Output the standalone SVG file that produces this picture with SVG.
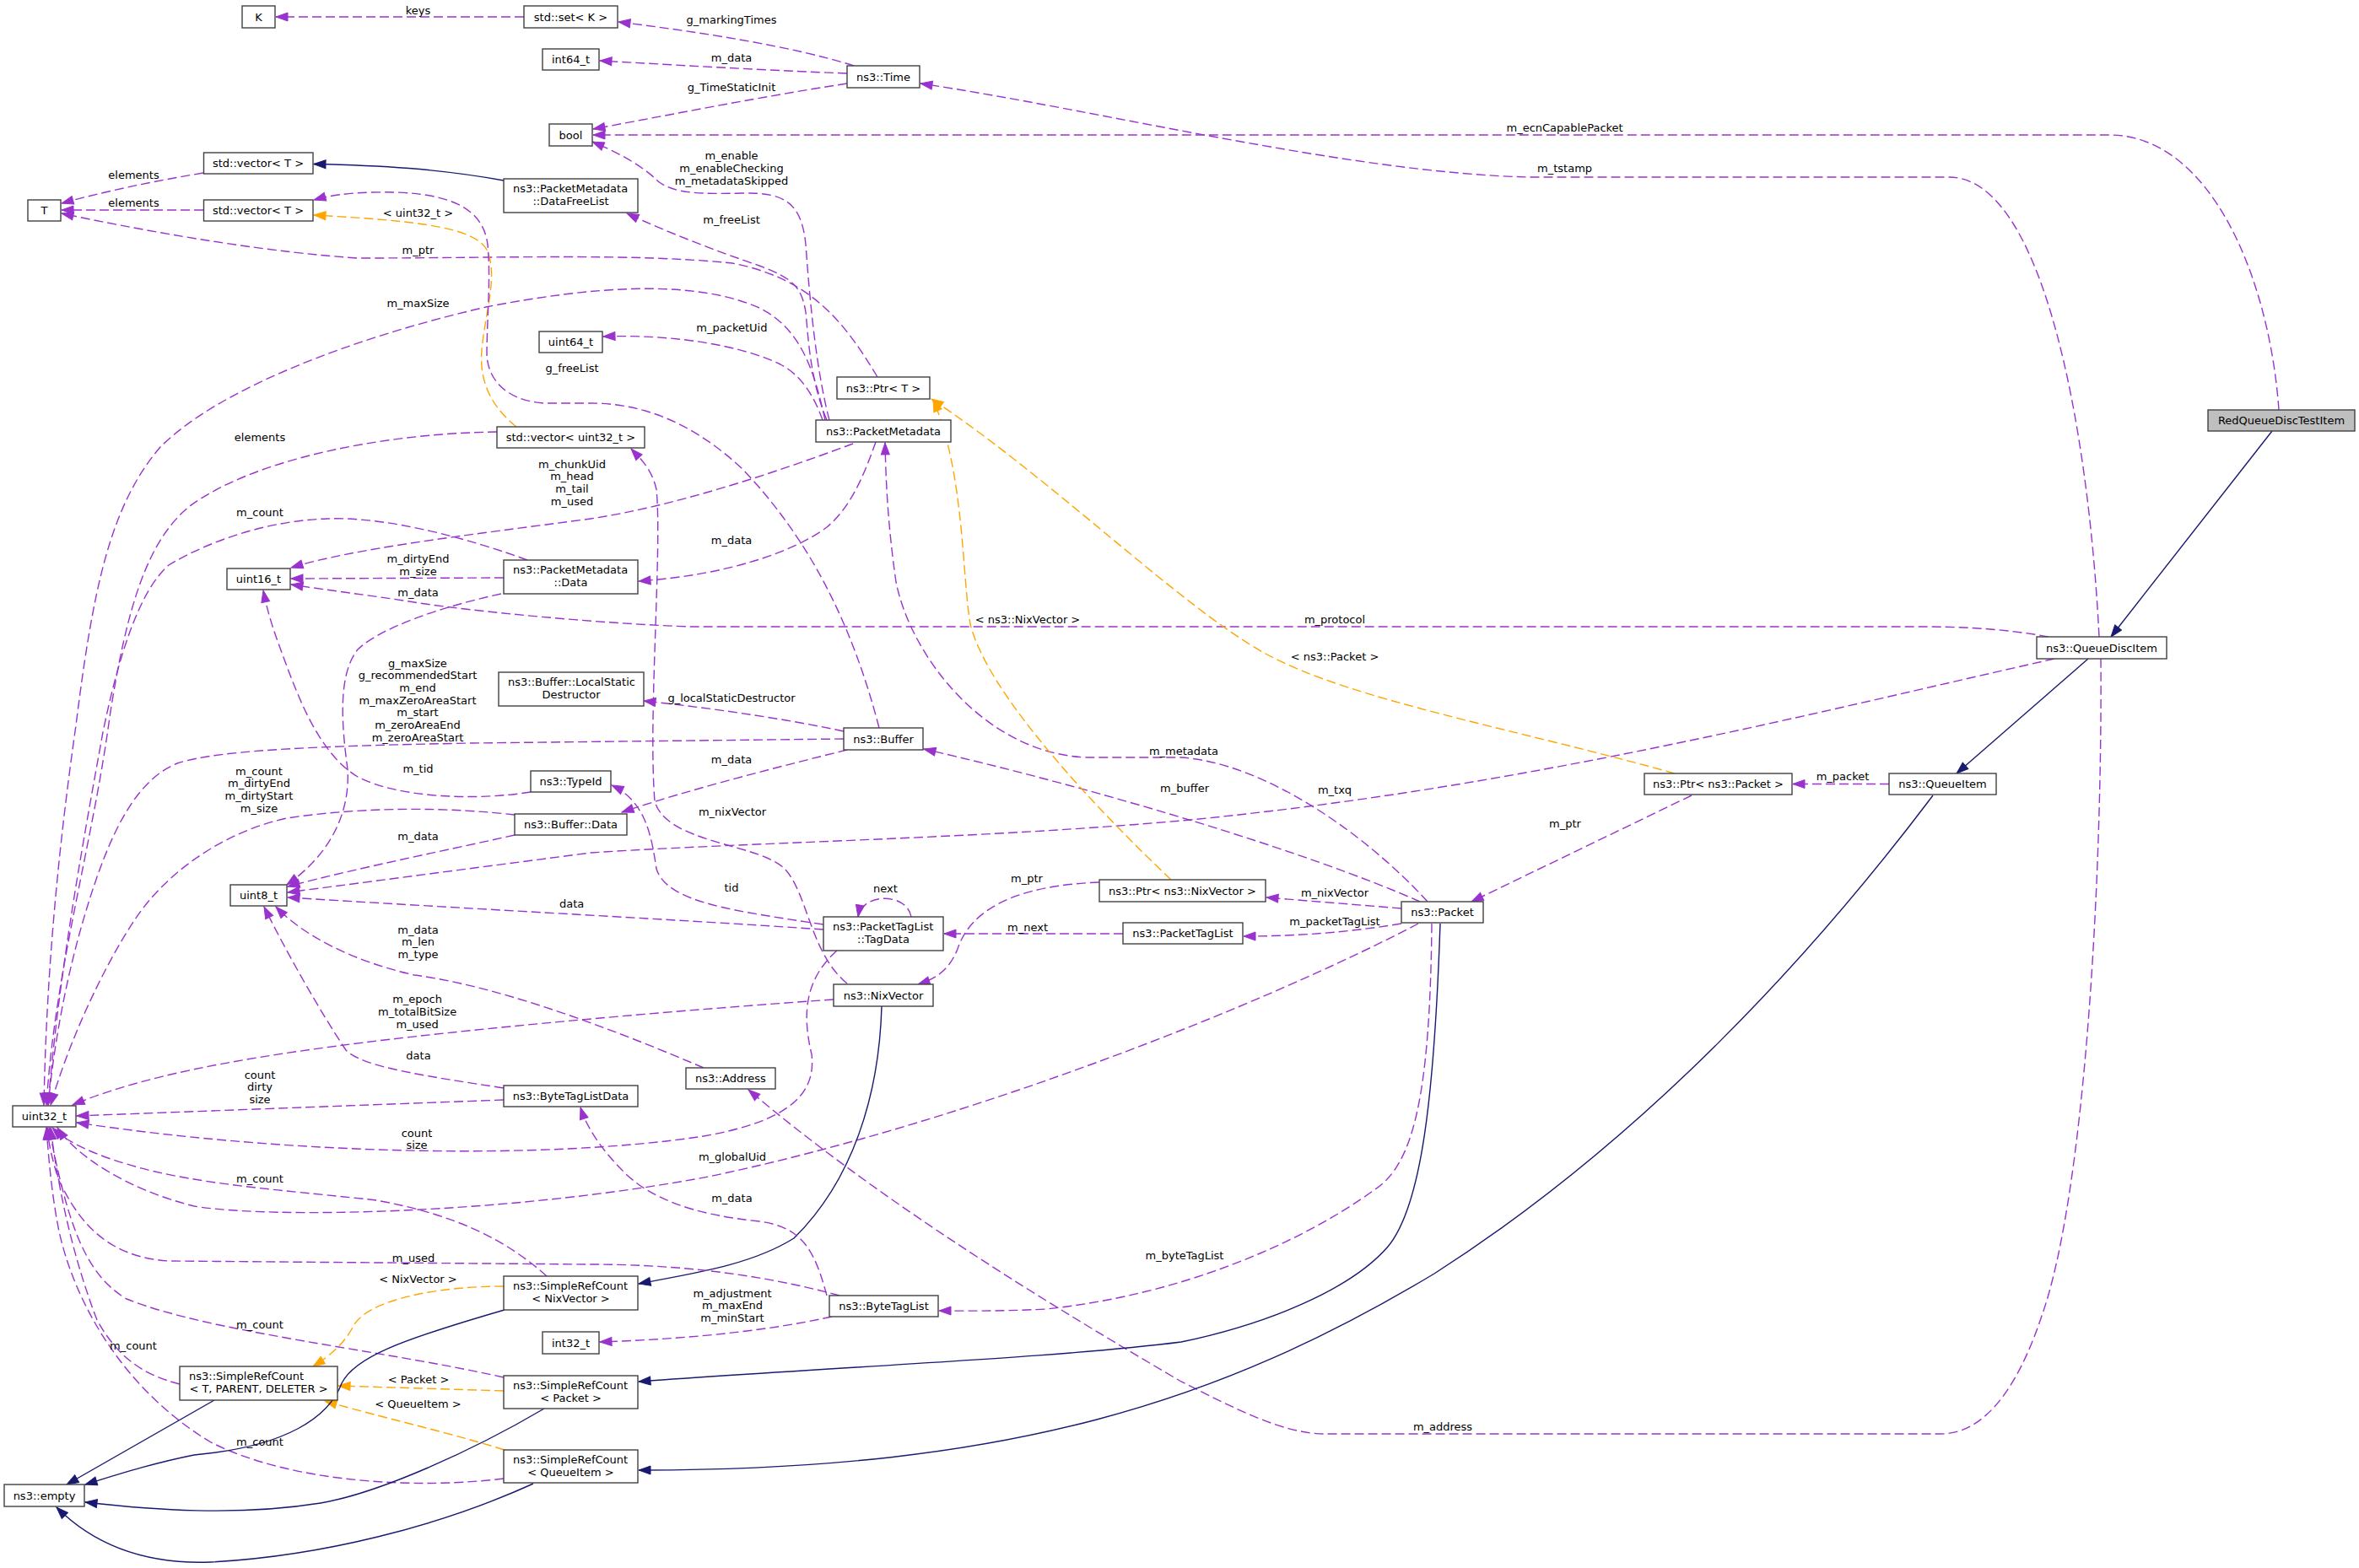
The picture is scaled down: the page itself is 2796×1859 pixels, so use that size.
<svg xmlns="http://www.w3.org/2000/svg" width="2796" height="1859" viewBox="0 0 2796 1859">
<style>
text{font-family:"DejaVu Sans","Liberation Sans",sans-serif;font-size:13px;fill:#000}
.n rect{fill:#fff;stroke:#404040;stroke-width:1.4}
.n text,.l text{text-anchor:middle}
.n text.s{text-anchor:start}
.e{fill:none;stroke:#9a32cd;stroke-width:1.4;stroke-dasharray:11,5;marker-end:url(#ap)}
.o{fill:none;stroke:#ffa500;stroke-width:1.4;stroke-dasharray:11,5;marker-end:url(#ao)}
.b{fill:none;stroke:#191970;stroke-width:1.4;marker-end:url(#ab)}
</style>
<defs>
<marker id="ap" markerUnits="userSpaceOnUse" markerWidth="16" markerHeight="12" viewBox="0 0 16 12" refX="15" refY="6" orient="auto"><path d="M1,1 L15,6 L1,11 z" fill="#9a32cd" stroke="#9a32cd"/></marker>
<marker id="ao" markerUnits="userSpaceOnUse" markerWidth="16" markerHeight="12" viewBox="0 0 16 12" refX="15" refY="6" orient="auto"><path d="M1,1 L15,6 L1,11 z" fill="#ffa500" stroke="#ffa500"/></marker>
<marker id="ab" markerUnits="userSpaceOnUse" markerWidth="16" markerHeight="12" viewBox="0 0 16 12" refX="15" refY="6" orient="auto"><path d="M1,1 L15,6 L1,11 z" fill="#191970" stroke="#191970"/></marker>
</defs>
<rect x="0" y="0" width="2796" height="1859" fill="#fff"/>
<g id="connectors">
<path class="e" d="M621,20 L327,20"/>
<path class="e" d="M1012,78 C940,55 830,38 733,26"/>
<path class="e" d="M1004,87 C900,83 800,77 711,72"/>
<path class="e" d="M1004,99 C900,115 800,135 703,153"/>
<path class="e" d="M2701,486 C2690,330 2620,160 2500,160 L703,160"/>
<path class="e" d="M2488,755 C2475,500 2420,210 2310,210 L1812,210 C1600,205 1300,130 1091,99"/>
<path class="b" d="M2693,511 L2502,755"/>
<path class="b" d="M2475,781 L2319,917"/>
<path class="e" d="M2428,755 C2380,746 2330,743 2280,743 L820,743 C720,740 560,725 491,714 C440,706 390,700 345,693"/>
<path class="e" d="M2435,781 C2150,845 1800,935 1400,973 C1150,995 900,998 700,1011 L341,1058"/>
<path class="e" d="M2490,781 C2492,1050 2470,1420 2420,1560 C2390,1650 2350,1700 2300,1700 L1570,1700 C1520,1700 1460,1668 1400,1638 C1250,1550 1050,1430 887,1292"/>
<path class="e" d="M2239,929.5 L2125,929.5"/>
<path class="e" d="M2005,943 L1744,1069"/>
<path class="b" d="M2291,943 C2150,1130 1950,1350 1700,1510 C1450,1660 1200,1743 757,1743"/>
<path class="b" d="M1707,1095 C1700,1300 1685,1430 1645,1478 C1600,1530 1500,1570 1400,1591 C1250,1610 1000,1620 757,1638"/>
<path class="e" d="M1697,1095 C1695,1300 1675,1380 1630,1410 C1540,1475 1400,1535 1240,1552 C1180,1555 1140,1554 1113,1554"/>
<path class="e" d="M1681,1095 C1500,1190 1150,1330 840,1395 C600,1440 320,1445 230,1430 C150,1410 90,1370 68,1337"/>
<path class="e" d="M1661,1077 L1501,1064"/>
<path class="e" d="M1661,1095 C1600,1105 1540,1110 1474,1110"/>
<path class="e" d="M1683,1069 C1550,1010 1300,935 1095,888"/>
<path class="e" d="M1692,1069 C1620,990 1500,905 1400,898 L1290,898 C1170,895 1080,780 1062,690 C1052,620 1050,570 1049,525"/>
<path class="o" d="M1985,917 C1800,865 1600,830 1500,775 C1400,720 1250,570 1104,473"/>
<path class="o" d="M1388,1043 C1290,950 1170,820 1150,740 C1140,680 1143,560 1106,474"/>
<path class="e" d="M1303,1046 C1200,1050 1150,1080 1135,1125 C1125,1150 1110,1160 1088,1167"/>
<path class="e" d="M1331,1107 L1119,1107"/>
<path class="e" d="M1080,1087 C1075,1058 1022,1058 1017,1087"/>
<path class="e" d="M976,1096 C870,1080 790,1070 778,1030 C772,990 765,950 725,931"/>
<path class="e" d="M1004,1166 C960,1130 958,1060 930,1030 C900,1000 790,1000 776,950 C768,850 785,650 778,580 C772,555 760,545 748,532"/>
<path class="e" d="M976,1102 C800,1090 600,1080 341,1064"/>
<path class="e" d="M992,1127 C955,1160 950,1200 962,1250 C968,1300 930,1330 834,1347 C650,1375 350,1370 91,1331"/>
<path class="e" d="M988,1185 C800,1198 550,1220 400,1240 C280,1256 170,1275 86,1310"/>
<path class="b" d="M1045,1193 C1042,1300 1010,1400 941,1468 C890,1500 820,1510 757,1522"/>
<path class="e" d="M834,1266 C750,1230 600,1170 491,1156 C420,1140 360,1110 327,1075"/>
<path class="e" d="M597,1290 C500,1275 430,1265 410,1245 C380,1200 340,1130 313,1075"/>
<path class="e" d="M597,1304 L91,1323"/>
<path class="e" d="M980,1536 C965,1480 950,1455 900,1448 C820,1440 770,1420 740,1390 C710,1360 695,1335 688,1313"/>
<path class="e" d="M995,1536 C900,1510 800,1499 700,1499 L200,1495 C120,1490 90,1440 70,1400 C60,1370 57,1350 56,1337"/>
<path class="e" d="M986,1561 C900,1580 800,1588 711,1591"/>
<path class="o" d="M597,1525 C520,1525 440,1540 420,1570 C410,1590 395,1605 371,1620"/>
<path class="o" d="M597,1649 L401,1643"/>
<path class="o" d="M598,1719 C520,1695 450,1680 385,1661"/>
<path class="e" d="M648,1513 C600,1470 540,1440 446,1423 C350,1412 230,1405 150,1380 C100,1365 75,1350 62,1337"/>
<path class="e" d="M213,1641 C170,1630 140,1610 115,1565 C90,1500 70,1420 60,1337"/>
<path class="e" d="M597,1633 C450,1600 250,1580 150,1540 C100,1510 80,1450 58,1337"/>
<path class="e" d="M597,1753 C500,1765 350,1760 250,1710 C150,1650 90,1550 70,1460 C62,1420 58,1380 55,1337"/>
<path class="b" d="M254,1660 L79,1760"/>
<path class="b" d="M598,1553 C470,1590 420,1610 405,1640 C390,1680 340,1715 230,1725 C180,1735 140,1748 101,1760"/>
<path class="b" d="M645,1670 C560,1720 450,1770 380,1782 C280,1798 180,1790 101,1781"/>
<path class="b" d="M632,1759 C520,1810 380,1845 250,1852 C170,1855 110,1830 67,1787"/>
<path class="e" d="M241,205 C180,215 120,228 73,241"/>
<path class="e" d="M241,249 L73,249"/>
<path class="e" d="M1040,447 C1000,380 960,330 868,312 C750,300 600,306 424,306 C330,300 200,280 73,253"/>
<path class="b" d="M597,214 C520,200 450,196 372,194.5"/>
<path class="o" d="M612,506 C580,480 568,450 571,415 C575,370 590,330 578,298 C565,270 500,262 372,255"/>
<path class="e" d="M1042,863 C1010,740 960,640 880,556 C820,500 760,478 700,478 L645,478 C600,475 578,450 577,420 C577,380 582,330 578,290 C572,240 520,226 440,228 C410,229 390,232 372,237"/>
<path class="e" d="M978,498 C965,440 950,390 900,365 C820,330 700,340 576,364 C420,400 260,460 190,530 C130,600 110,700 90,860 C70,1000 55,1150 52,1310"/>
<path class="e" d="M589,512 C450,514 300,545 225,600 C175,640 150,720 130,850 C110,1000 65,1150 55,1310"/>
<path class="e" d="M625,664 C560,640 460,612 388,615 C320,617 250,640 200,670 C165,700 140,780 122,868 C100,990 70,1150 57,1310"/>
<path class="e" d="M1011,526 C920,560 800,600 700,615 C550,635 420,650 345,673"/>
<path class="e" d="M597,685 L345,686"/>
<path class="e" d="M629,939 C560,950 470,945 424,921 C380,895 355,830 340,790 C325,750 318,730 312,700"/>
<path class="e" d="M594,704 C520,720 450,745 424,770 C400,800 405,860 412,912 C415,960 395,1010 340,1049"/>
<path class="e" d="M1000,876 L560,881 C400,884 260,888 210,905 C160,925 130,990 105,1070 C80,1150 65,1230 57,1310"/>
<path class="e" d="M610,966 C540,958 440,955 340,970 C270,985 200,1030 160,1090 C120,1150 80,1240 60,1310"/>
<path class="e" d="M1004,889 C920,910 820,935 737,963"/>
<path class="e" d="M1000,867 C920,850 830,838 763,831"/>
<path class="e" d="M610,990 C520,1010 420,1030 341,1051"/>
<path class="e" d="M1038,524 C1025,560 1010,600 980,625 C940,655 860,682 757,689"/>
<path class="e" d="M975,498 C965,470 950,445 925,432 C880,410 800,396 715,399"/>
<path class="e" d="M980,498 C960,450 958,400 955,370 C950,340 940,330 900,315 C850,298 790,275 743,253"/>
<path class="e" d="M983,498 C965,430 958,330 955,290 C950,240 930,228 880,229 C830,230 800,230 780,215 C760,195 730,180 702,168"/>
</g>
<g id="edge-labels" class="l">
<text x="495.5" y="16.5">keys</text>
<text x="867" y="28">g_markingTimes</text>
<text x="867" y="73">m_data</text>
<text x="867" y="107.5">g_TimeStaticInit</text>
<text x="1854.6" y="156">m_ecnCapablePacket</text>
<text x="1854.6" y="204">m_tstamp</text>
<text x="158.5" y="212">elements</text>
<text x="158.5" y="245">elements</text>
<text x="867"><tspan x="867" y="189">m_enable</tspan><tspan x="867" y="204">m_enableChecking</tspan><tspan x="867" y="219">m_metadataSkipped</tspan></text>
<text x="495.5" y="257">&lt; uint32_t &gt;</text>
<text x="867" y="264.5">m_freeList</text>
<text x="495.5" y="301">m_ptr</text>
<text x="495.5" y="364">m_maxSize</text>
<text x="867.4" y="393">m_packetUid</text>
<text x="678" y="441">g_freeList</text>
<text x="308" y="523">elements</text>
<text x="678"><tspan x="678" y="554.5">m_chunkUid</tspan><tspan x="678" y="569">m_head</tspan><tspan x="678" y="583.5">m_tail</tspan><tspan x="678" y="598.5">m_used</tspan></text>
<text x="308" y="612">m_count</text>
<text x="867" y="644.5">m_data</text>
<text x="495.5"><tspan x="495.5" y="667">m_dirtyEnd</tspan><tspan x="495.5" y="681.5">m_size</tspan></text>
<text x="495.5" y="707">m_data</text>
<text x="1218" y="738.5">&lt; ns3::NixVector &gt;</text>
<text x="1582" y="738.5">m_protocol</text>
<text x="1582" y="783">&lt; ns3::Packet &gt;</text>
<text x="495"><tspan x="495" y="791">g_maxSize</tspan><tspan x="495" y="805">g_recommendedStart</tspan><tspan x="495" y="820">m_end</tspan><tspan x="495" y="834.5">m_maxZeroAreaStart</tspan><tspan x="495" y="849">m_start</tspan><tspan x="495" y="863.5">m_zeroAreaEnd</tspan><tspan x="495" y="879">m_zeroAreaStart</tspan></text>
<text x="867" y="831.5">g_localStaticDestructor</text>
<text x="1403" y="894.5">m_metadata</text>
<text x="495.5" y="915.5">m_tid</text>
<text x="307"><tspan x="307" y="919">m_count</tspan><tspan x="307" y="933">m_dirtyEnd</tspan><tspan x="307" y="948">m_dirtyStart</tspan><tspan x="307" y="963">m_size</tspan></text>
<text x="867" y="904.5">m_data</text>
<text x="1404" y="938.5">m_buffer</text>
<text x="1582" y="941">m_txq</text>
<text x="868" y="967">m_nixVector</text>
<text x="1855" y="980.5">m_ptr</text>
<text x="2184" y="925">m_packet</text>
<text x="495.5" y="996">m_data</text>
<text x="867" y="1056.5">tid</text>
<text x="1049.5" y="1058">next</text>
<text x="1217" y="1045.5">m_ptr</text>
<text x="1582" y="1063">m_nixVector</text>
<text x="677.7" y="1076">data</text>
<text x="1218" y="1103.5">m_next</text>
<text x="1582" y="1097">m_packetTagList</text>
<text x="495.5"><tspan x="495.5" y="1107">m_data</tspan><tspan x="495.5" y="1121">m_len</tspan><tspan x="495.5" y="1136">m_type</tspan></text>
<text x="494.6"><tspan x="494.6" y="1189">m_epoch</tspan><tspan x="494.6" y="1204">m_totalBitSize</tspan><tspan x="494.6" y="1219">m_used</tspan></text>
<text x="496" y="1256">data</text>
<text x="308"><tspan x="308" y="1279">count</tspan><tspan x="308" y="1293">dirty</tspan><tspan x="308" y="1308">size</tspan></text>
<text x="494"><tspan x="494" y="1347.5">count</tspan><tspan x="494" y="1361.5">size</tspan></text>
<text x="868" y="1376">m_globalUid</text>
<text x="308" y="1401.5">m_count</text>
<text x="867.4" y="1425">m_data</text>
<text x="1404" y="1493">m_byteTagList</text>
<text x="490" y="1495.5">m_used</text>
<text x="495.5" y="1521">&lt; NixVector &gt;</text>
<text x="868"><tspan x="868" y="1537.5">m_adjustment</tspan><tspan x="868" y="1552">m_maxEnd</tspan><tspan x="868" y="1567">m_minStart</tspan></text>
<text x="308" y="1575">m_count</text>
<text x="158" y="1600">m_count</text>
<text x="496" y="1640">&lt; Packet &gt;</text>
<text x="495.5" y="1668.5">&lt; QueueItem &gt;</text>
<text x="1710" y="1696">m_address</text>
<text x="308" y="1713.5">m_count</text>
</g>
<g id="node-RedQueueDiscTestItem" class="n"><rect x="2617" y="486" width="174" height="25" style="fill:#bfbfbf"/><text x="2704" y="503">RedQueueDiscTestItem</text></g>
<g id="node-QueueDiscItem" class="n"><rect x="2414" y="755" width="154" height="26"/><text x="2491" y="772.5">ns3::QueueDiscItem</text></g>
<g id="node-QueueItem" class="n"><rect x="2239" y="917" width="127" height="25"/><text x="2302.5" y="934">ns3::QueueItem</text></g>
<g id="node-PtrPacket" class="n"><rect x="1949" y="917" width="175" height="25"/><text x="2036.5" y="934">ns3::Ptr&lt; ns3::Packet &gt;</text></g>
<g id="node-Packet" class="n"><rect x="1661" y="1069" width="97" height="25"/><text x="1709.5" y="1086">ns3::Packet</text></g>
<g id="node-PtrNixVector" class="n"><rect x="1303" y="1043" width="197" height="26"/><text x="1401.5" y="1060.5">ns3::Ptr&lt; ns3::NixVector &gt;</text></g>
<g id="node-PacketTagList" class="n"><rect x="1331" y="1094" width="142" height="25"/><text x="1402" y="1111">ns3::PacketTagList</text></g>
<g id="node-TagData" class="n"><rect x="976" y="1087" width="142" height="40"/><text class="s" x="987" y="1103">ns3::PacketTagList</text><text x="1047" y="1117.7">::TagData</text></g>
<g id="node-NixVector" class="n"><rect x="988" y="1167" width="118" height="26"/><text x="1047" y="1184.5">ns3::NixVector</text></g>
<g id="node-Address" class="n"><rect x="813" y="1266" width="106" height="25"/><text x="866" y="1283">ns3::Address</text></g>
<g id="node-ByteTagListData" class="n"><rect x="597" y="1287" width="159" height="25"/><text x="676.5" y="1304">ns3::ByteTagListData</text></g>
<g id="node-ByteTagList" class="n"><rect x="983" y="1536" width="129" height="25"/><text x="1047.5" y="1553">ns3::ByteTagList</text></g>
<g id="node-int32_t" class="n"><rect x="643" y="1579" width="67" height="26"/><text x="676.5" y="1596.5">int32_t</text></g>
<g id="node-SRCNixVector" class="n"><rect x="597" y="1513" width="159" height="40"/><text class="s" x="608" y="1529">ns3::SimpleRefCount</text><text x="676.5" y="1543.7">&lt; NixVector &gt;</text></g>
<g id="node-SRCPacket" class="n"><rect x="597" y="1631" width="159" height="39"/><text class="s" x="608" y="1647">ns3::SimpleRefCount</text><text x="676.5" y="1661.7">&lt; Packet &gt;</text></g>
<g id="node-SRCQueueItem" class="n"><rect x="597" y="1719" width="159" height="39"/><text class="s" x="608" y="1735">ns3::SimpleRefCount</text><text x="676.5" y="1749.7">&lt; QueueItem &gt;</text></g>
<g id="node-SRCT" class="n"><rect x="213" y="1620" width="187" height="40"/><text class="s" x="224" y="1636">ns3::SimpleRefCount</text><text x="306.5" y="1650.7">&lt; T, PARENT, DELETER &gt;</text></g>
<g id="node-empty" class="n"><rect x="5" y="1760" width="95" height="26"/><text x="52.5" y="1777.5">ns3::empty</text></g>
<g id="node-uint32_t" class="n"><rect x="15" y="1311" width="75" height="25"/><text x="52.5" y="1328">uint32_t</text></g>
<g id="node-uint8_t" class="n"><rect x="273" y="1049" width="67" height="25"/><text x="306.5" y="1066">uint8_t</text></g>
<g id="node-uint16_t" class="n"><rect x="269" y="674" width="75" height="25"/><text x="306.5" y="691">uint16_t</text></g>
<g id="node-BufferData" class="n"><rect x="610" y="965" width="133" height="25"/><text x="676.5" y="982">ns3::Buffer::Data</text></g>
<g id="node-TypeId" class="n"><rect x="629" y="914" width="95" height="25"/><text x="676.5" y="931">ns3::TypeId</text></g>
<g id="node-Buffer" class="n"><rect x="1000" y="863" width="94" height="26"/><text x="1047" y="880.5">ns3::Buffer</text></g>
<g id="node-LocalStaticDestructor" class="n"><rect x="591" y="797" width="172" height="40"/><text class="s" x="602" y="813">ns3::Buffer::LocalStatic</text><text x="677" y="827.7">Destructor</text></g>
<g id="node-PacketMetadataData" class="n"><rect x="597" y="664" width="159" height="40"/><text class="s" x="608" y="680">ns3::PacketMetadata</text><text x="676.5" y="694.7">::Data</text></g>
<g id="node-PacketMetadata" class="n"><rect x="967" y="498" width="160" height="26"/><text x="1047" y="515.5">ns3::PacketMetadata</text></g>
<g id="node-vector_uint32" class="n"><rect x="589" y="506" width="175" height="25"/><text x="676.5" y="523">std::vector&lt; uint32_t &gt;</text></g>
<g id="node-PtrT" class="n"><rect x="992" y="447" width="110" height="26"/><text x="1047" y="464.5">ns3::Ptr&lt; T &gt;</text></g>
<g id="node-uint64_t" class="n"><rect x="639" y="393" width="75" height="25"/><text x="676.5" y="410">uint64_t</text></g>
<g id="node-DataFreeList" class="n"><rect x="597" y="212" width="159" height="40"/><text class="s" x="608" y="228">ns3::PacketMetadata</text><text x="676.5" y="242.7">::DataFreeList</text></g>
<g id="node-vectorT1" class="n"><rect x="241.5" y="181" width="129.5" height="25"/><text x="306" y="198">std::vector&lt; T &gt;</text></g>
<g id="node-vectorT2" class="n"><rect x="241.5" y="237" width="129.5" height="25"/><text x="306" y="254">std::vector&lt; T &gt;</text></g>
<g id="node-T" class="n"><rect x="33" y="237" width="39" height="25"/><text x="52.5" y="254">T</text></g>
<g id="node-bool" class="n"><rect x="651" y="147" width="51" height="26"/><text x="676.5" y="164.5">bool</text></g>
<g id="node-int64_t" class="n"><rect x="643" y="58" width="67" height="25"/><text x="676.5" y="75">int64_t</text></g>
<g id="node-Time" class="n"><rect x="1004" y="78" width="86" height="26"/><text x="1047" y="95.5">ns3::Time</text></g>
<g id="node-setK" class="n"><rect x="621" y="7" width="111" height="26"/><text x="676.5" y="24.5">std::set&lt; K &gt;</text></g>
<g id="node-K" class="n"><rect x="287" y="7" width="39" height="26"/><text x="306.5" y="24.5">K</text></g>
</svg>
